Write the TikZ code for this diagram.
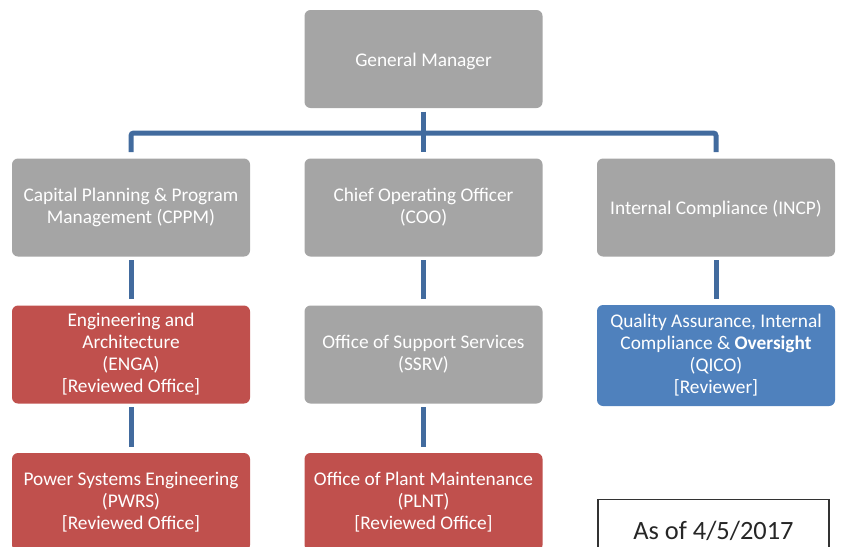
\documentclass[tikz,border=0pt]{standalone}
\usepackage{fontspec}
\setmainfont{Carlito}

\definecolor{unitgray}{RGB}{165,165,165}
\definecolor{unitred}{RGB}{192,80,77}
\definecolor{unitblue}{RGB}{79,129,189}
\definecolor{linkblue}{RGB}{66,107,158}

\tikzset{every picture/.style={line width=0.75pt}}
\tikzset{
  unit/.style={rounded corners=4.5pt, minimum width=178.5pt, minimum height=73.5pt,
    inner sep=0.75pt, align=center, text=white, font=\fontsize{14.5}{16.5}\selectfont,
    execute at begin node={\rule{0pt}{13.3pt}}},
  grayunit/.style={unit, fill=unitgray},
  redunit/.style={unit, fill=unitred},
  blueunit/.style={unit, fill=unitblue},
  link/.style={draw=linkblue, line width=3.75pt, shorten <=2.25pt, shorten >=4.5pt},
  datebox/.style={draw=black!80, line width=0.9pt, fill=white, text=black!85,
    minimum width=173.25pt, minimum height=46.5pt, font=\fontsize{19.8}{22}\selectfont}
}

\begin{document}
\begin{tikzpicture}[x=0.75pt,y=0.75pt,yscale=-1,xscale=1]
\useasboundingbox (0,0) rectangle (841,546);

%Top level
\node [grayunit] (gm) at (423.5,59) {General Manager};
%Second row
\node [grayunit] (cppm) at (131,207.5) {Capital Planning \& Program\\Management (CPPM)};
\node [grayunit] (coo) at (423.5,207.5) {Chief Operating Officer\\(COO)};
\node [grayunit] (incp) at (716,207.5) {Internal Compliance (INCP)};
%Third row
\node [redunit] (enga) at (131,354.5) {Engineering and\\Architecture\\(ENGA)\\{[}Reviewed Office{]}};
\node [grayunit] (ssrv) at (423.5,354.5) {Office of Support Services\\(SSRV)};
\node [blueunit, minimum height=75.75pt] (qico) at (716,355.5) {Quality Assurance, Internal\\Compliance \& {\bfseries Oversight}\\(QICO)\\{[}Reviewer{]}};
%Fourth row
\node [redunit] (pwrs) at (131,502) {Power Systems Engineering\\(PWRS)\\{[}Reviewed Office{]}};
\node [redunit] (plnt) at (423.5,502) {Office of Plant Maintenance\\(PLNT)\\{[}Reviewed Office{]}};

%Date stamp
\node [datebox, anchor=north] (date) at (713.5,499) {As of 4/5/2017};

%Connectors
\coordinate (bar) at (423.5,133);
\draw [link, shorten <=4.5pt, rounded corners=2pt] (cppm.north) |- (bar) -| (incp.north);
\draw [link] (gm.south) -- (coo.north);
\draw [link] (cppm) -- (enga);
\draw [link] (coo) -- (ssrv);
\draw [link] (incp) -- (qico);
\draw [link] (enga) -- (pwrs);
\draw [link] (ssrv) -- (plnt);

\end{tikzpicture}
\end{document}
